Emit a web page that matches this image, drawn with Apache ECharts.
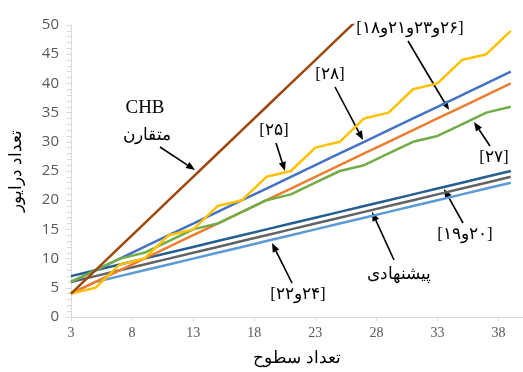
<!DOCTYPE html>
<html>
<head>
<meta charset="utf-8">
<script src="https://cdn.jsdelivr.net/npm/echarts@6/dist/echarts.min.js"></script>
<style>
  html, body { margin: 0; padding: 0; background: #fff; }
  #chart { width: 523px; height: 372px; }
</style>
</head>
<body>
<div id="chart"></div>
<script>
// Number of levels (x) for each configuration
const levels = [3, 5, 7, 9, 11, 13, 15, 17, 19, 21, 23, 25, 27, 29, 31, 33, 35, 37, 39];

// Driver counts per configuration
const chbSymmetric = [4, 8, 12, 16, 20, 24, 28, 32, 36, 40, 44, 48, 52];
const ref28 = [6, 8, 10, 12, 14, 16, 18, 20, 22, 24, 26, 28, 30, 32, 34, 36, 38, 40, 42];
const ref18_21_23_26 = [4, 6, 8, 10, 12, 14, 16, 18, 20, 22, 24, 26, 28, 30, 32, 34, 36, 38, 40];
const ref25 = [4, 5, 9, 10, 14, 15, 19, 20, 24, 25, 29, 30, 34, 35, 39, 40, 44, 45, 49];
const ref27 = [6, 8, 10, 11, 13, 15, 16, 18, 20, 21, 23, 25, 26, 28, 30, 31, 33, 35, 36];
const ref19_20 = [7, 8, 9, 10, 11, 12, 13, 14, 15, 16, 17, 18, 19, 20, 21, 22, 23, 24, 25];
const proposed = [6, 7, 8, 9, 10, 11, 12, 13, 14, 15, 16, 17, 18, 19, 20, 21, 22, 23, 24];
const ref22_24 = [4, 6, 7, 8, 9, 10, 11, 12, 13, 14, 15, 16, 17, 18, 19, 20, 21, 22, 23];

// Axis ticks
const xTickStart = 3, xTickStep = 5, xMax = 40;
const yTicks = [0, 5, 10, 15, 20, 25, 30, 35, 40, 45, 50];

function pairs(values) {
  return values.map((v, i) => [levels[i], v]);
}

const seriesDefs = [
  { name: '[۲۴و۲۲]', data: ref22_24, color: '#5B9BD5' },
  { name: 'پیشنهادی', data: proposed, color: '#636363' },
  { name: '[۲۰و۱۹]', data: ref19_20, color: '#255E91' },
  { name: '[۲۶و۲۳و۲۱و۱۸]', data: ref18_21_23_26, color: '#ED7D31' },
  { name: '[۲۸]', data: ref28, color: '#4472C4' },
  { name: '[۲۷]', data: ref27, color: '#70AD47' },
  { name: '[۲۵]', data: ref25, color: '#FFC000' },
  { name: 'CHB متقارن', data: chbSymmetric, color: '#9E480E' }
];

// Reference tags are laid out left to right exactly as written
const LRO = '\u202D', PDF = '\u202C';
const serif = '"Liberation Serif", "Times New Roman", "DejaVu Serif", serif';

function label(text, x, y, size, forceLtr) {
  return {
    type: 'text', x: x, y: y, z: 10,
    style: {
      text: forceLtr ? LRO + text + PDF : text, fill: '#000', font: size + 'px ' + serif,
      textAlign: 'center', textVerticalAlign: 'middle'
    }
  };
}

// Straight arrow with a filled head at (x2, y2)
function arrow(x1, y1, x2, y2) {
  const ang = Math.atan2(y2 - y1, x2 - x1);
  const len = 9, half = 3.6;
  const bx = x2 - len * Math.cos(ang), by = y2 - len * Math.sin(ang);
  const px = -Math.sin(ang) * half, py = Math.cos(ang) * half;
  return {
    type: 'group', z: 10,
    children: [
      { type: 'line', shape: { x1: x1, y1: y1, x2: bx, y2: by },
        style: { stroke: '#000', lineWidth: 1.6 } },
      { type: 'polygon', shape: { points: [[x2, y2], [bx + px, by + py], [bx - px, by - py]] },
        style: { fill: '#000' } }
    ]
  };
}

const chart = echarts.init(document.getElementById('chart'), null, { renderer: 'canvas' });

chart.setOption({
  animation: false,
  backgroundColor: '#fff',
  grid: { left: 66, right: 0, top: 25, bottom: 54, containLabel: false },
  xAxis: {
    type: 'value',
    min: xTickStart, max: xMax, interval: xTickStep,
    name: 'تعداد سطوح',
    nameLocation: 'middle', nameGap: 33,
    nameTextStyle: { color: '#000', fontSize: 17, fontFamily: serif },
    axisLine: { show: true, lineStyle: { color: '#D9D9D9', width: 1 } },
    axisTick: { show: true, length: 4, lineStyle: { color: '#D9D9D9' } },
    axisLabel: { color: '#595959', fontSize: 14, fontFamily: serif, margin: 9, showMaxLabel: false },
    splitLine: { show: false }
  },
  yAxis: {
    type: 'value',
    min: yTicks[0], max: yTicks[yTicks.length - 1], interval: yTicks[1] - yTicks[0],
    name: 'تعداد درایور',
    nameLocation: 'middle', nameGap: 46, nameRotate: 90,
    nameTextStyle: { color: '#000', fontSize: 17, fontFamily: serif },
    axisLine: { show: true, lineStyle: { color: '#D9D9D9', width: 1 } },
    axisTick: { show: true, length: 5, lineStyle: { color: '#D9D9D9' } },
    minorTick: { show: true, splitNumber: 5, length: 4, lineStyle: { color: '#D9D9D9' } },
    axisLabel: { color: '#595959', fontSize: 15, fontFamily: '"Open Sans", "DejaVu Sans", sans-serif', margin: 12 },
    splitLine: { show: false }
  },
  series: seriesDefs.map(s => ({
    name: s.name,
    type: 'line',
    data: pairs(s.data),
    symbol: 'none',
    clip: true,
    lineStyle: { color: s.color, width: 2.5 },
    itemStyle: { color: s.color }
  })),
  graphic: [
    { type: 'text', x: 145, y: 108, z: 10,
      style: { text: 'CHB', fill: '#000', font: '19px ' + serif, textAlign: 'center', textVerticalAlign: 'middle' } },
    label('متقارن', 147, 136, 17, false),
    arrow(160, 147, 195, 170),
    label('[۲۵]', 274, 131, 17, true),
    arrow(276, 143, 285, 171),
    label('[۲۸]', 330, 75, 17, true),
    arrow(335, 87, 363, 140),
    label('[۱۸و۲۱و۲۳و۲۶]', 410, 29, 17, true),
    arrow(408, 41, 449, 110),
    label('[۲۷]', 494, 158, 17, true),
    arrow(490, 146, 474, 122),
    label('[۱۹و۲۰]', 465, 235, 17, true),
    arrow(463, 223, 444, 189),
    label('پیشنهادی', 399, 275, 17, false),
    arrow(394, 260, 372, 212),
    label('[۲۲و۲۴]', 298, 295, 17, true),
    arrow(292, 283, 272, 243)
  ]
});
</script>
</body>
</html>
